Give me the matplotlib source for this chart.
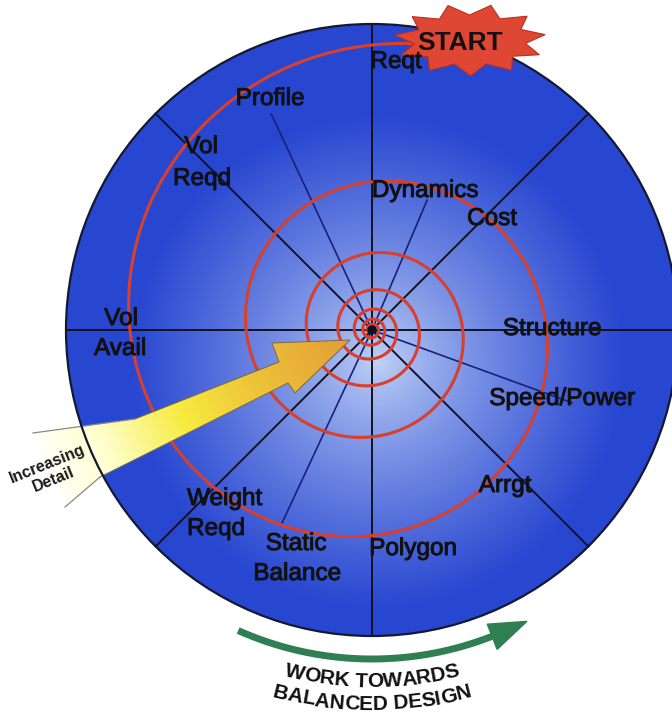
import numpy as np
import matplotlib
matplotlib.use("Agg")
import matplotlib.pyplot as plt
import matplotlib.patheffects as pe
from matplotlib.patches import Circle, Polygon
from matplotlib.font_manager import FontProperties

plt.rcParams['font.family'] = ['Liberation Sans', 'DejaVu Sans']

# the picture is laid out in pixel units (1 unit = 1 px at dpi 100)
W, H = 672, 715
CX, CY = 372, 330          # centre of the design wheel
R_WHEEL = 306

# black spokes (full diameters), degrees counter-clockwise from the right
spoke_angles = [0, 45, 90, 135]
# thin blue rays from the centre
ray_angles = [115, 67, -20, 245]
ray_lengths = [238, 141, 213, 216]

# red design spiral: start radius, radius ratio after each turn, number of turns
spiral_r0 = 285
spiral_ratio = 0.52
spiral_turns = 6.3

# labels around the wheel
labels = ["Reqt", "Profile", "Vol", "Reqd", "Dynamics", "Cost", "Vol", "Avail",
          "Structure", "Speed/Power", "Arrgt", "Weight", "Reqd", "Static",
          "Balance", "Polygon"]
label_pos = [(396, 68), (270, 105), (201, 153), (202, 185), (425, 197), (492, 225),
             (121, 325), (120, 355), (552, 335), (562, 405), (505, 492), (187, 505),
             (187, 535), (296, 550), (297, 580), (413, 555)]
label_ha = ["center"] * 11 + ["left", "left"] + ["center"] * 3

arrow_label = "Increasing\nDetail"
bottom_lines = ["WORK TOWARDS", "BALANCED DESIGN"]
start_label = "START"


def polar(a_deg, r):
    a = np.radians(a_deg)
    return CX + r * np.cos(a), CY - r * np.sin(a)


fig = plt.figure(figsize=(6.72, 7.15), dpi=100)
ax = fig.add_axes([0, 0, 1, 1])
ax.set_xlim(0, W)
ax.set_ylim(H, 0)
ax.axis('off')

# wheel with radial gradient
wheel = Circle((CX, CY), R_WHEEL, facecolor='none', edgecolor='none')
ax.add_patch(wheel)
yy, xx = np.mgrid[0:H, 0:W] + 0.5
d = np.hypot(xx - 378, yy - 362)
t = np.clip(d / 245, 0, 1) ** 0.8
light = np.array([0.76, 0.83, 0.97])
dark = np.array([0.16, 0.28, 0.82])
img = light * (1 - t)[..., None] + dark * t[..., None]
im = ax.imshow(img, extent=(0, W, H, 0), zorder=1, interpolation='bilinear')
im.set_clip_path(wheel)

# spokes
for a in spoke_angles:
    x0, y0 = polar(a, R_WHEEL)
    x1, y1 = polar(a + 180, R_WHEEL)
    ax.plot([x0, x1], [y0, y1], color='#121225', lw=1.4, zorder=2)

# blue rays
for a, L in zip(ray_angles, ray_lengths):
    x1, y1 = polar(a, L)
    ax.plot([CX, x1], [CY, y1], color='#18207a', lw=1.2, zorder=2)

# spiral
k = np.log(1 / spiral_ratio) / 360.0
tt = np.linspace(-8, 360 * spiral_turns, 3000)
rr = spiral_r0 * np.exp(-k * tt)
sx, sy = polar(90 + tt, rr)
ax.plot(sx, sy, color='#d8402c', lw=2.2, zorder=3, solid_capstyle='round')

# yellow arrow with gradient
arrow_pts = np.array([(350, 340), (272, 343), (279, 362), (135, 419), (33, 433),
                      (65, 507), (100, 477), (288, 383), (295, 393)])
arrow_patch = Polygon(arrow_pts, closed=True, facecolor='none', edgecolor='none')
ax.add_patch(arrow_patch)
p0 = np.array([45, 475.0])
p1 = np.array([350, 345.0])
u = (p1 - p0) / np.sum((p1 - p0) ** 2)
ta = np.clip((xx - p0[0]) * u[0] + (yy - p0[1]) * u[1], 0, 1)
stops = np.array([0.0, 0.2, 0.45, 0.7, 1.0])
cols = np.array([[1.0, 1.0, 0.99], [1.0, 1.0, 0.80], [0.97, 0.92, 0.25],
                 [0.93, 0.76, 0.22], [0.89, 0.62, 0.22]])
aimg = np.stack([np.interp(ta, stops, cols[:, i]) for i in range(3)], axis=-1)
aim = ax.imshow(aimg, extent=(0, W, H, 0), zorder=4, interpolation='bilinear')
aim.set_clip_path(arrow_patch)
edge = np.vstack([arrow_pts[6:], arrow_pts[:4]])
ax.plot(edge[:, 0], edge[:, 1], color='#7a6a40', lw=0.7, zorder=5)
ax.plot([33, 135], [433, 419], color='#888888', lw=0.9, zorder=5)
ax.plot([65, 100], [507, 477], color='#888888', lw=0.9, zorder=5)

# centre dot and wheel outline
ax.add_patch(Circle((CX, CY), 4, color='#101020', zorder=6))
ax.add_patch(Circle((CX, CY), R_WHEEL, facecolor='none', edgecolor='#141830',
                    lw=1.6, zorder=6))

# START burst
n = 11
ang = np.linspace(0, 2 * np.pi, 2 * n, endpoint=False) + 0.15
rx = np.where(np.arange(2 * n) % 2 == 0, 76, 56)
ry = np.where(np.arange(2 * n) % 2 == 0, 36, 25)
star = np.column_stack([470 + rx * np.cos(ang), 40 - ry * np.sin(ang)])
ax.add_patch(Polygon(star, closed=True, facecolor='#df4634', edgecolor='#b83020',
                     lw=0.8, zorder=7))
heavy = [pe.withStroke(linewidth=0.7, foreground='#111111')]
ax.text(460, 50, start_label, fontsize=19, fontweight='bold', ha='center',
        va='baseline', color='#111111', zorder=9)

# labels
for s, (x, y), ha in zip(labels, label_pos, label_ha):
    ax.text(x, y, s, fontsize=17.5, ha=ha, va='baseline', color='#111111',
            zorder=9, path_effects=heavy)

ax.text(50, 472, arrow_label, fontsize=11.5, fontweight='bold', ha='center',
        va='center', rotation=22, rotation_mode='anchor', linespacing=1.1,
        color='#1a1a1a', zorder=9)

# green arrow under the wheel
ga = np.linspace(246, 292, 200)
gx, gy = polar(ga, 329)
ax.plot(gx, gy, color='#2f7f52', lw=5, zorder=5, solid_capstyle='butt')
head = [polar(291.4, 316), polar(298, 330), polar(291.4, 343)]
ax.add_patch(Polygon(head, closed=True, color='#2f7f52', zorder=5))

# curved text
fig.canvas.draw()
renderer = fig.canvas.get_renderer()
fp = FontProperties(family=['Liberation Sans', 'DejaVu Sans'], weight='bold', size=15)


def tw(s):
    if not s:
        return 0.0
    return renderer.get_text_width_height_descent(s, fp, ismath=False)[0]


for line, R in zip(bottom_lines, [357, 380]):
    total = tw(line)
    for i, ch in enumerate(line):
        if ch == ' ':
            continue
        left = tw(line[:i])
        cw = tw(line[:i + 1]) - left
        sc = left + cw / 2 - total / 2
        al = sc / R
        x = CX + R * np.sin(al)
        y = CY + R * np.cos(al)
        ax.text(x, y, ch, fontproperties=fp, ha='center', va='baseline',
                rotation=np.degrees(al), rotation_mode='anchor', color='#111111',
                zorder=9)

fig.savefig("out.png", dpi=100)
